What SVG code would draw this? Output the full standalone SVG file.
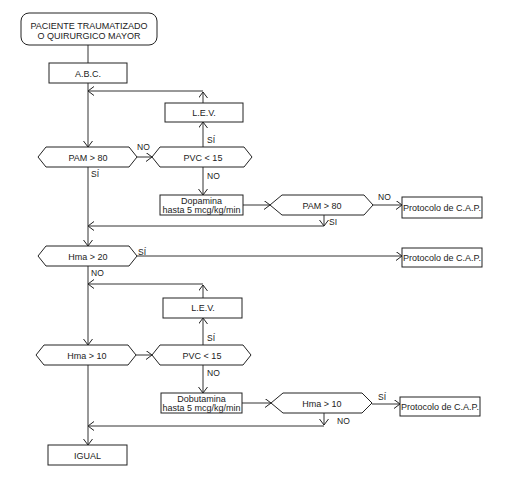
<svg xmlns="http://www.w3.org/2000/svg" width="521" height="483" viewBox="0 0 521 483">
<defs>
<marker id="a" markerUnits="userSpaceOnUse" markerWidth="8" markerHeight="10" refX="6" refY="4.5" orient="auto">
<path d="M0,0 L6,4.5 L0,9" fill="none" stroke="#222" stroke-width="1"/>
</marker>
<style>
.n{fill:#fff;stroke:#222;stroke-width:1}
.t{font-family:"Liberation Sans",Arial,sans-serif;font-size:9px;fill:#222;text-anchor:middle}
.s{font-family:"Liberation Sans",Arial,sans-serif;font-size:8.5px;fill:#222}
.c path{fill:none;stroke:#333;stroke-width:1}
.c path.m{marker-end:url(#a)}
</style>
</defs>
<rect width="521" height="483" fill="#fff"/>
<g class="c" id="connectors">
<path d="M88,45 V63"/>
<path class="m" d="M88,83 V147"/>
<path class="m" d="M203,103 V92"/>
<path class="m" d="M203,91 H88"/>
<path class="m" d="M137,157 H152"/>
<path class="m" d="M203,147 V122"/>
<path class="m" d="M203,167 V195"/>
<path class="m" d="M243,205 H270"/>
<path class="m" d="M373,205 H402"/>
<path class="m" d="M324,215 V226"/>
<path class="m" d="M324,226 H88"/>
<path class="m" d="M88,167 V246"/>
<path class="m" d="M137,256 H402"/>
<path class="m" d="M88,266 V345"/>
<path class="m" d="M203,298 V285"/>
<path class="m" d="M203,284 H88"/>
<path class="m" d="M136,355 H152"/>
<path class="m" d="M203,345 V318"/>
<path class="m" d="M203,365 V393"/>
<path class="m" d="M242,403 H271"/>
<path class="m" d="M372,404 H400"/>
<path class="m" d="M324,413 V425"/>
<path class="m" d="M324,426 H88"/>
<path class="m" d="M88,365 V445"/>
</g>
<g id="start"><rect class="n" x="21" y="13" width="136" height="32" rx="8"/><text class="t" x="89" y="28.5">PACIENTE TRAUMATIZADO</text><text class="t" x="89" y="39">O QUIRURGICO MAYOR</text></g>
<g id="abc"><rect class="n" x="49" y="63" width="78" height="20"/><text class="t" x="88" y="76.5">A.B.C.</text></g>
<g id="lev1"><rect class="n" x="165" y="103" width="78" height="19"/><text class="t" x="204" y="115.5">L.E.V.</text></g>
<g id="pam1"><polygon class="n" points="38,157 46,147 129,147 137,157 129,167 46,167"/><text class="t" x="88" y="160.5">PAM &gt; 80</text></g>
<g id="pvc1"><polygon class="n" points="152,157 160,147 244,147 252,157 244,167 160,167"/><text class="t" x="203" y="160.5">PVC &lt; 15</text></g>
<g id="dopamina"><rect class="n" x="160" y="195" width="83" height="20"/><text class="t" x="201.5" y="203.5">Dopamina</text><text class="t" x="201.5" y="212.5">hasta 5 mcg/kg/min</text></g>
<g id="pam2"><polygon class="n" points="270,205 282,195 364,195 373,205 364,215 282,215"/><text class="t" x="322" y="208.5">PAM &gt; 80</text></g>
<g id="cap1"><rect class="n" x="402" y="197" width="80" height="21"/><text class="t" x="442" y="210.5">Protocolo de C.A.P.</text></g>
<g id="hma20"><polygon class="n" points="38,256 46,246 129,246 137,256 129,266 46,266"/><text class="t" x="88" y="259.5">Hma &gt; 20</text></g>
<g id="cap2"><rect class="n" x="402" y="248" width="80" height="19"/><text class="t" x="442" y="260.5">Protocolo de C.A.P.</text></g>
<g id="lev2"><rect class="n" x="163" y="298" width="79" height="20"/><text class="t" x="203" y="311">L.E.V.</text></g>
<g id="hma10"><polygon class="n" points="36,355 44,345 128,345 136,355 128,365 44,365"/><text class="t" x="87" y="358.5">Hma &gt; 10</text></g>
<g id="pvc2"><polygon class="n" points="152,355 160,345 243,345 251,355 243,365 160,365"/><text class="t" x="202" y="358.5">PVC &lt; 15</text></g>
<g id="dobutamina"><rect class="n" x="161" y="393" width="81" height="20"/><text class="t" x="201.5" y="401.5">Dobutamina</text><text class="t" x="201.5" y="410.5">hasta 5 mcg/kg/min</text></g>
<g id="hma10b"><polygon class="n" points="271,403 283,393 362,393 372,403 362,413 283,413"/><text class="t" x="322" y="406.5">Hma &gt; 10</text></g>
<g id="cap3"><rect class="n" x="400" y="397" width="80" height="19"/><text class="t" x="440" y="409.5">Protocolo de C.A.P.</text></g>
<g id="igual"><rect class="n" x="48" y="445" width="79" height="20"/><text class="t" x="87.5" y="458.5">IGUAL</text></g>
<g id="labels">
<text class="s" x="137" y="150">NO</text>
<text class="s" x="91" y="177">SÍ</text>
<text class="s" x="207" y="143">SÍ</text>
<text class="s" x="207" y="179">NO</text>
<text class="s" x="378" y="200">NO</text>
<text class="s" x="329" y="225">SI</text>
<text class="s" x="138" y="255">SÍ</text>
<text class="s" x="91" y="276">NO</text>
<text class="s" x="207" y="341">SÍ</text>
<text class="s" x="207" y="376">NO</text>
<text class="s" x="378" y="400">SÍ</text>
<text class="s" x="337" y="424">NO</text>
</g>
</svg>
